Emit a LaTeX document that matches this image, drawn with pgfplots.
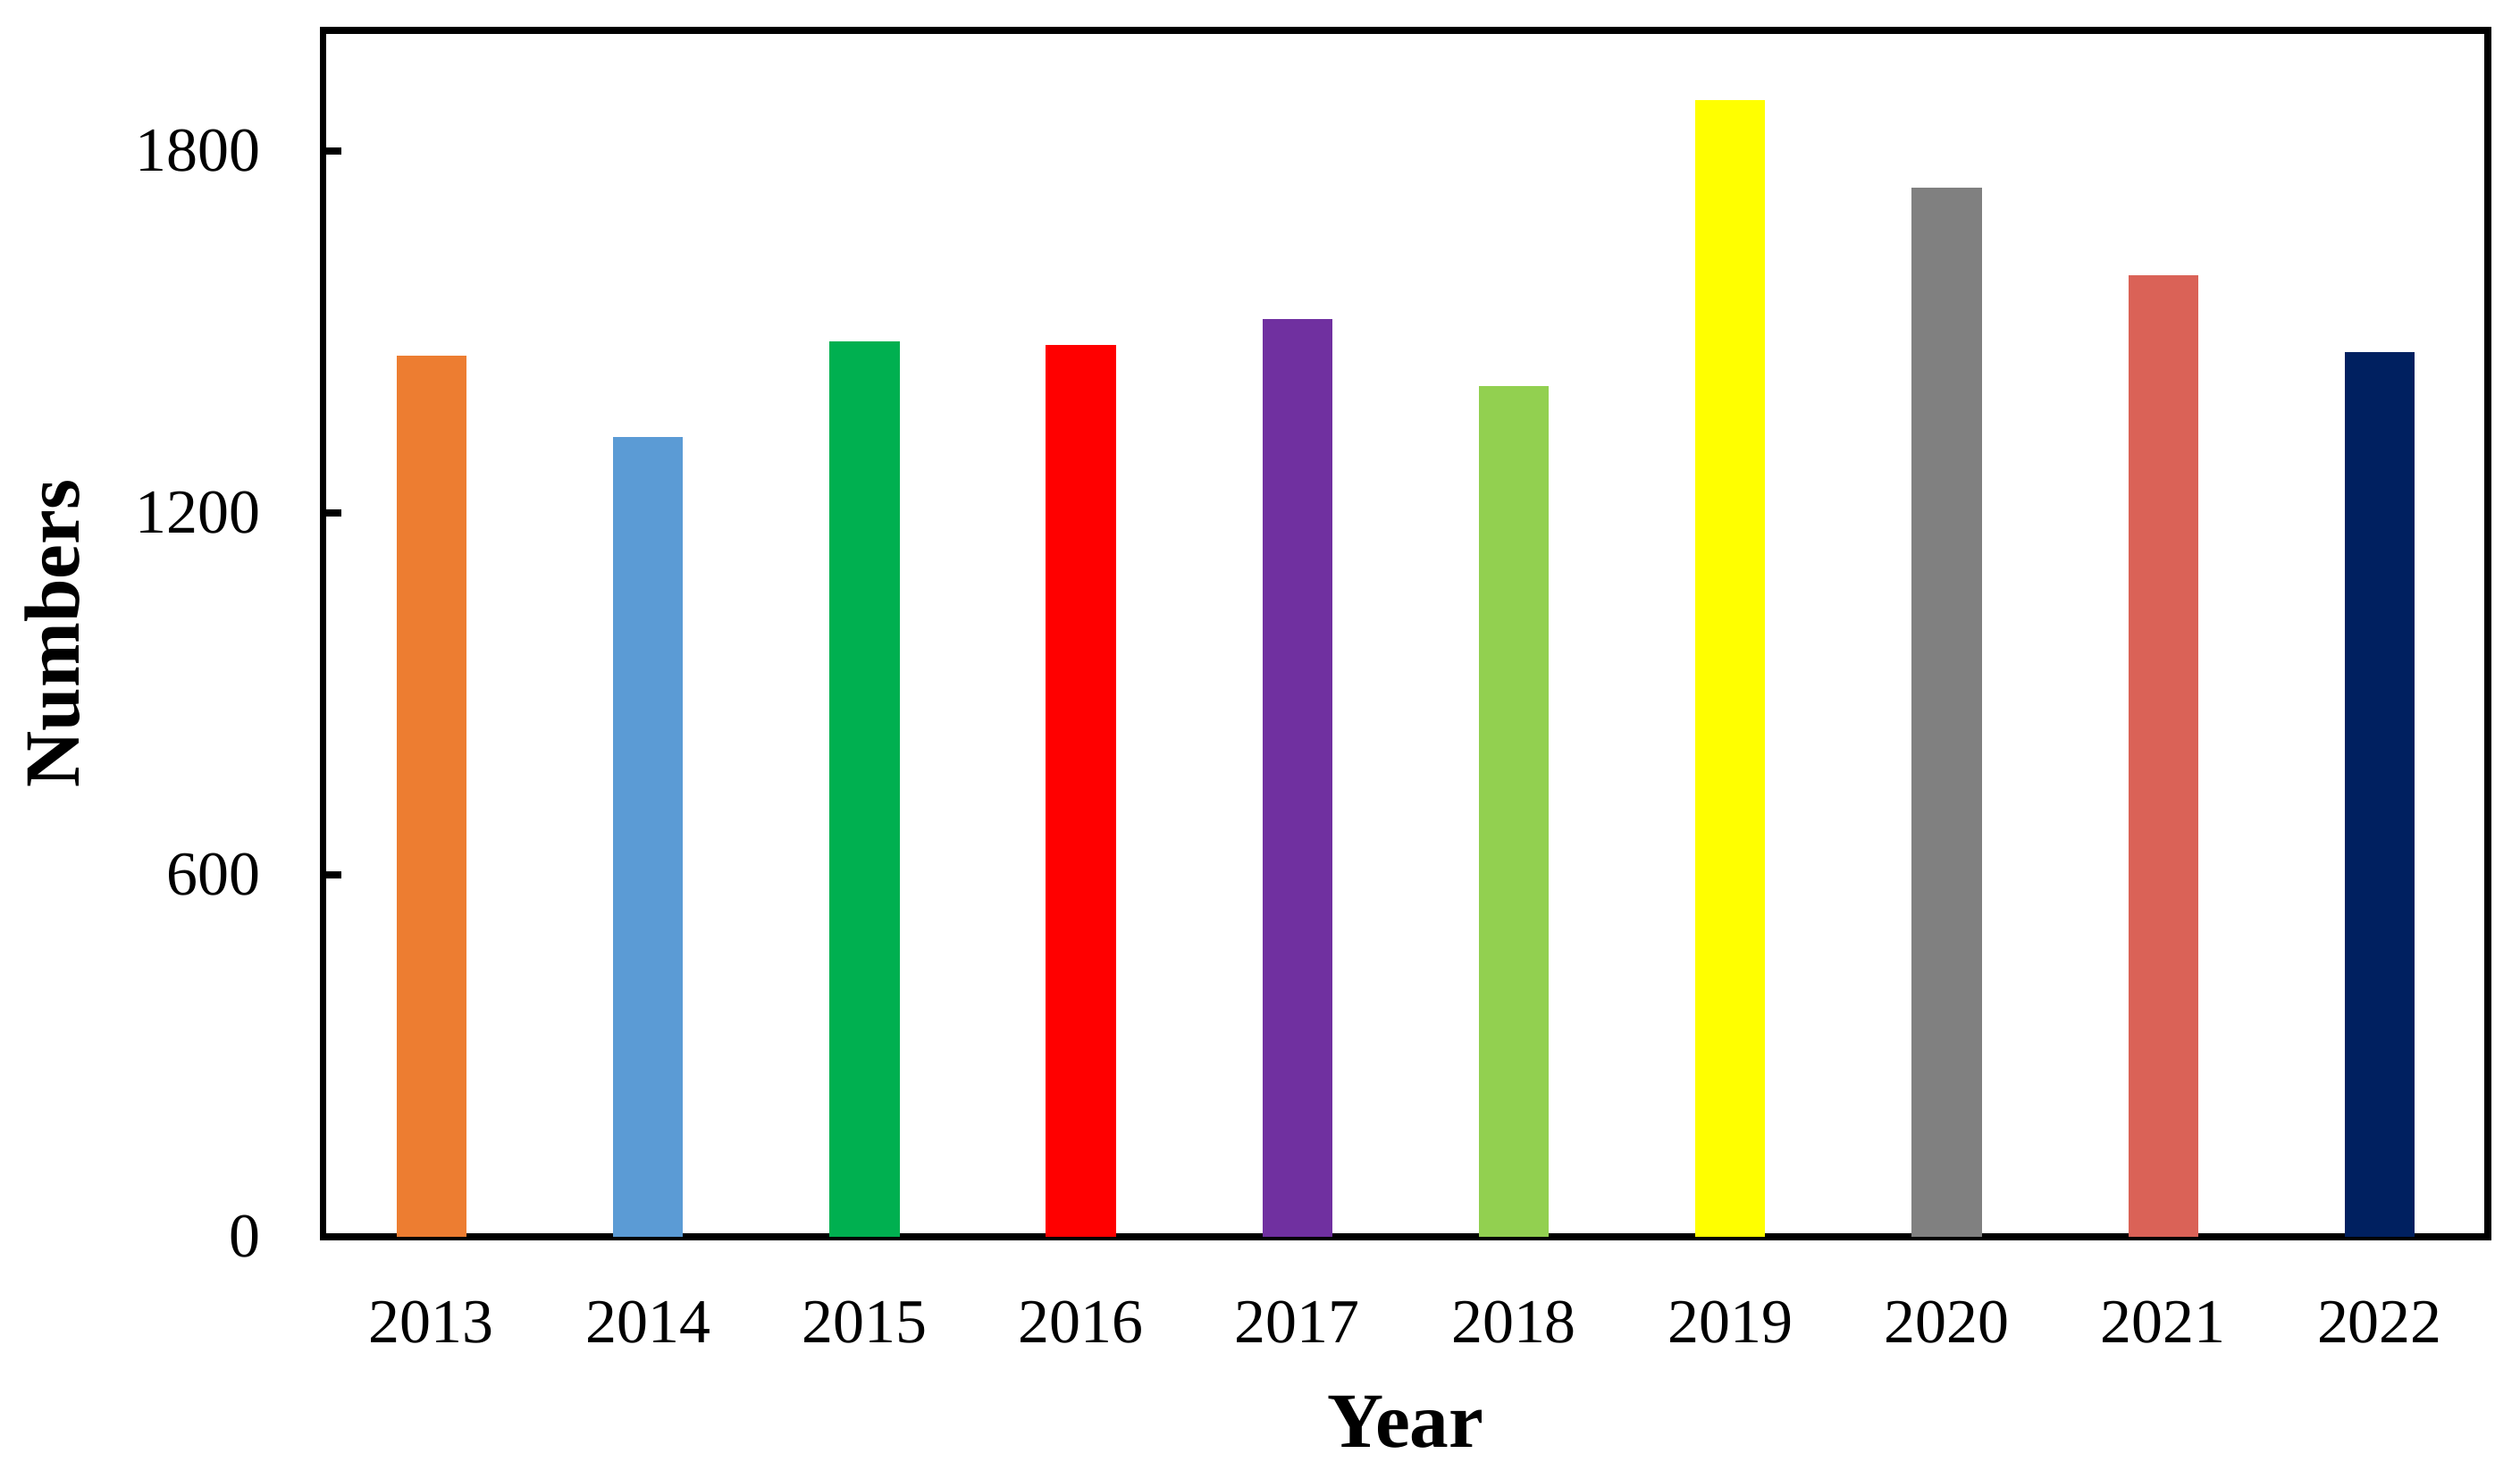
\documentclass[border=0pt]{standalone}
\usepackage{pgfplots}
\pgfplotsset{compat=1.18}
\usepackage{fontspec}
\setmainfont{Liberation Serif}
\definecolor{c1}{HTML}{ED7D31}
\definecolor{c2}{HTML}{5B9BD5}
\definecolor{c3}{HTML}{00B050}
\definecolor{c4}{HTML}{FF0000}
\definecolor{c5}{HTML}{7030A0}
\definecolor{c6}{HTML}{92D050}
\definecolor{c7}{HTML}{FFFF00}
\definecolor{c8}{HTML}{808080}
\definecolor{c9}{HTML}{DA6257}
\definecolor{c10}{HTML}{002060}
\begin{document}
\begin{tikzpicture}
\begin{axis}[
  scale only axis,
  width=484.8pt, height=270.2pt,
  xmin=-0.5, xmax=9.5, ymin=0, ymax=2000,
  ybar, bar shift=0pt, bar width=15.7pt,
  axis line style={line width=1.5pt},
  xtick={0,...,9},
  xticklabels={2013,2014,2015,2016,2017,2018,2019,2020,2021,2022},
  x tick style={draw=none},
  ytick={0,600,1200,1800},
  ytick pos=left, tick align=inside,
  y tick style={line width=1.5pt, black},
  major tick length=4pt,
  /pgf/number format/assume math mode=true,
  /pgf/number format/1000 sep={},
  tick label style={font=\fontsize{14}{16}\selectfont},
  xticklabel style={yshift=-10.8pt},
  yticklabel style={xshift=-10.5pt},
  xlabel={Year}, ylabel={Numbers},
  label style={font=\fontsize{17.5}{20}\selectfont\bfseries},
  xlabel style={at={(axis description cs:0.5,-0.1535)}, anchor=center},
  ylabel style={at={(axis description cs:-0.125,0.5)}, anchor=center},
]
\addplot[fill=c1, draw=none] coordinates {(0,1461)};
\addplot[fill=c2, draw=none] coordinates {(1,1326)};
\addplot[fill=c3, draw=none] coordinates {(2,1484)};
\addplot[fill=c4, draw=none] coordinates {(3,1479)};
\addplot[fill=c5, draw=none] coordinates {(4,1521)};
\addplot[fill=c6, draw=none] coordinates {(5,1411)};
\addplot[fill=c7, draw=none] coordinates {(6,1885)};
\addplot[fill=c8, draw=none] coordinates {(7,1739)};
\addplot[fill=c9, draw=none] coordinates {(8,1594)};
\addplot[fill=c10, draw=none] coordinates {(9,1466)};
\end{axis}
\pgfresetboundingbox
\path[use as bounding box] ([xshift=-72.4pt,yshift=-54.2pt]current axis.south west) rectangle ([xshift=7.2pt,yshift=6.8pt]current axis.north east);
\end{tikzpicture}
\end{document}
